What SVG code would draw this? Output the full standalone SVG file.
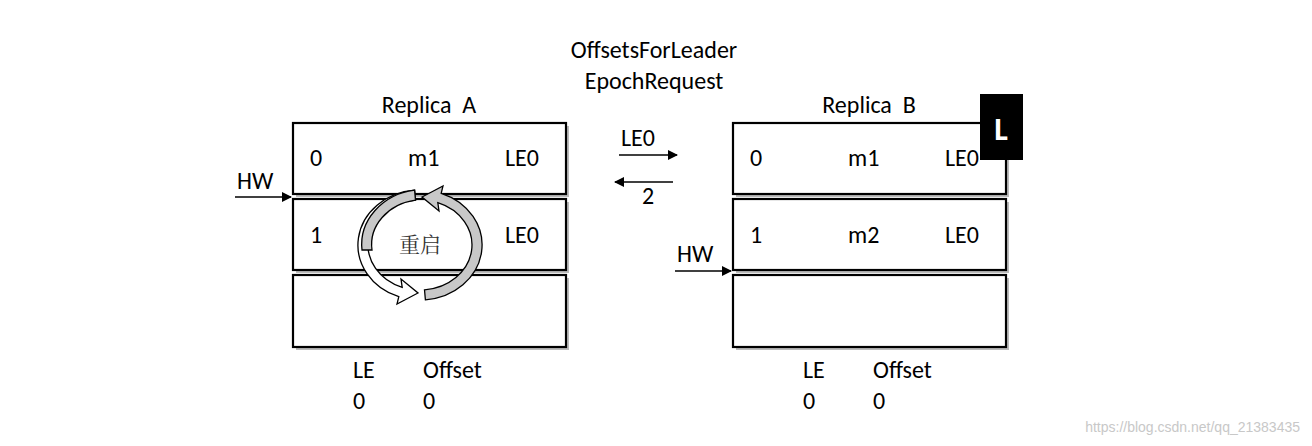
<svg xmlns="http://www.w3.org/2000/svg" width="1312" height="446" viewBox="0 0 1312 446">
<style>
text{font-family:Calibri,Carlito,"Liberation Sans","Noto Sans CJK SC",sans-serif;font-size:24px;fill:#000;white-space:pre}
.box{fill:#fff;stroke:#000;stroke-width:2.2}
.sh{fill:#bbb}
.ln{stroke:#000;stroke-width:1.6;fill:none}
.ring{fill:#c8c8c8;stroke:#000;stroke-width:1.3}
</style>
<defs>
<marker id="ah" markerWidth="10" markerHeight="10" refX="9" refY="5" orient="auto" markerUnits="userSpaceOnUse"><path d="M0,0 L10,5 L0,10 Z" fill="#000"/></marker>
</defs>
<rect width="1312" height="446" fill="#fff"/>
<text x="654" y="58" text-anchor="middle">OffsetsForLeader</text>
<text x="654" y="89" text-anchor="middle">EpochRequest</text>
<g id="replicaA">
<text x="429" y="113" text-anchor="middle">Replica  A</text>
<rect class="sh" x="296" y="126" width="273" height="71"/><rect class="box" x="293" y="123" width="273" height="71"/>
<rect class="sh" x="296" y="202" width="273" height="71"/><rect class="box" x="293" y="199" width="273" height="71"/>
<rect class="sh" x="296" y="278" width="273" height="72"/><rect class="box" x="293" y="275" width="273" height="72"/>
<text x="310" y="166">0</text><text x="408" y="166">m1</text><text x="505" y="166">LE0</text>
<text x="310" y="243">1</text><text x="505" y="243">LE0</text>
<text x="353" y="378">LE</text><text x="423" y="378">Offset</text>
<text x="353" y="409">0</text><text x="423" y="409">0</text>
</g>
<g id="restart">
<path class="ring" d="M414.6,190.2 A62 55 0 0 0 398.8,296.7 L397,304 L418,293 L401,279 L402.2,287.3 A52 45 0 0 1 415.5,200.2 Z" style="fill:#fff"/>
<path class="ring" transform="rotate(180 420 245)" d="M414.6,190.2 A62 55 0 0 0 398.8,296.7 L397,304 L418,293 L401,279 L402.2,287.3 A52 45 0 0 1 415.5,200.2 Z"/>
<path d="M414.6,190.2 A62 55 0 0 0 362,250 L372,250 A52 45 0 0 1 415.5,200.2 Z" fill="#c8c8c8" stroke="#000" stroke-width="1.3"/>
<text x="420" y="252" text-anchor="middle" style="font-family:'Noto Serif CJK SC','Noto Sans CJK SC',serif;font-size:21px;fill:#333">重启</text>
</g>
<g id="replicaB">
<text x="869" y="113" text-anchor="middle">Replica  B</text>
<rect class="sh" x="736" y="126" width="273" height="71"/><rect class="box" x="733" y="123" width="273" height="71"/>
<rect class="sh" x="736" y="202" width="273" height="71"/><rect class="box" x="733" y="199" width="273" height="71"/>
<rect class="sh" x="736" y="278" width="273" height="72"/><rect class="box" x="733" y="275" width="273" height="72"/>
<text x="750" y="166">0</text><text x="848" y="166">m1</text><text x="945" y="166">LE0</text>
<text x="750" y="243">1</text><text x="848" y="243">m2</text><text x="945" y="243">LE0</text>
<text x="803" y="378">LE</text><text x="873" y="378">Offset</text>
<text x="803" y="409">0</text><text x="873" y="409">0</text>
</g>
<g id="badgeL">
<rect x="980" y="94" width="43" height="66" fill="#000"/>
<text x="1001" y="140" text-anchor="middle" style="fill:#fff;font-size:32px;font-weight:bold">L</text>
</g>
<g id="connectors">
<line class="ln" x1="235" y1="197" x2="291" y2="197" marker-end="url(#ah)"/>
<line class="ln" x1="675" y1="271" x2="731" y2="271" marker-end="url(#ah)"/>
<line class="ln" x1="619" y1="155" x2="677" y2="155" marker-end="url(#ah)"/>
<line class="ln" x1="673" y1="182" x2="615" y2="182" marker-end="url(#ah)"/>
</g>
<text x="237" y="189">HW</text>
<text x="677" y="262">HW</text>
<text x="621" y="146">LE0</text>
<text x="642" y="204">2</text>
<text x="1300" y="432" text-anchor="end" style="font-family:'Liberation Sans',sans-serif;font-size:14px;fill:#c8c8c8">https://blog.csdn.net/qq_21383435</text>
</svg>
